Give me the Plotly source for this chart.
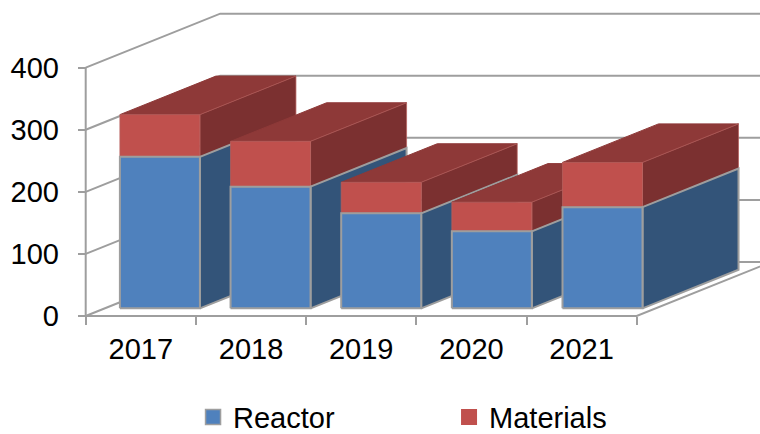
import plotly.graph_objects as go

# Data
years = ["2017", "2018", "2019", "2020", "2021"]
reactor = [244, 196, 153, 124, 163]
materials = [68, 73, 50, 47, 72]
y_ticks = [0, 100, 200, 300, 400]

# Canvas and axis scale
WIDTH = 760
HEIGHT = 434
AXIS_LEFT_PX = 85.7
AXIS_BOTTOM_PX = 316
PX_PER_CATEGORY = 110.2
PX_PER_UNIT = 0.6208

# Oblique depth of the box, in axis units
DEPTH_X = 134.5 / PX_PER_CATEGORY
DEPTH_Y = 54 / PX_PER_UNIT
BAR_START = 0.142
BAR_DEPTH = 0.714
BAR_WIDTH = 80 / PX_PER_CATEGORY
BAR_PITCH = 110.65 / PX_PER_CATEGORY

# Colours
GRID_COLOR = "#9e9e9e"
BLUE_FRONT = "#4f81bd"
BLUE_SIDE = "#335479"
RED_FRONT = "#c0504d"
RED_SIDE = "#7b3030"
RED_TOP = "#8e3938"
FONT = "Liberation Sans, Arial, sans-serif"

fig = go.Figure()


def add_line(xs, ys):
    fig.add_trace(go.Scatter(x=xs, y=ys, mode="lines", showlegend=False, hoverinfo="skip",
                             line=dict(color=GRID_COLOR, width=2)))


def add_face(xs, ys, fill, edge, edge_width=2):
    fig.add_trace(go.Scatter(x=xs + xs[:1], y=ys + ys[:1], mode="lines", fill="toself", fillcolor=fill,
                             showlegend=False, hoverinfo="skip",
                             line=dict(color=edge, width=edge_width)))


def add_box(i, low, high, front, side, top, edge, edge_width):
    # one stacked block: front rectangle plus the faces going back in depth
    x0 = i * BAR_PITCH - BAR_WIDTH / 2 + BAR_START * DEPTH_X
    x1 = x0 + BAR_WIDTH
    y0 = low + BAR_START * DEPTH_Y
    y1 = high + BAR_START * DEPTH_Y
    dx = BAR_DEPTH * DEPTH_X
    dy = BAR_DEPTH * DEPTH_Y
    if top is not None:
        add_face([x0, x1, x1 + dx, x0 + dx], [y1, y1, y1 + dy, y1 + dy], top, top, 1)
    add_face([x1, x1 + dx, x1 + dx, x1], [y0, y0 + dy, y1 + dy, y1], side, edge, edge_width)
    add_face([x0, x1, x1, x0], [y0, y0, y1, y1], front, edge, edge_width)


# Walls of the box: left wall, back wall, floor edge
x_left = -0.5
x_right = len(years) - 0.5
for v in y_ticks:
    add_line([x_left, x_left + DEPTH_X, x_right + DEPTH_X], [v, v + DEPTH_Y, v + DEPTH_Y])
add_line([x_left, x_right, x_right + DEPTH_X], [0, 0, DEPTH_Y])
add_line([x_left, x_left], [0, y_ticks[-1]])

# Bars from left to right so each one covers the side of the previous one
for i in range(len(years)):
    total = reactor[i] + materials[i]
    add_box(i, reactor[i], total, RED_FRONT, RED_SIDE, RED_TOP, "#b5605d", 0.75)
    add_box(i, 0, reactor[i], BLUE_FRONT, BLUE_SIDE, None, GRID_COLOR, 2)

# Legend entries
fig.add_trace(go.Scatter(x=[None], y=[None], mode="markers", name="Reactor",
                         marker=dict(symbol="square", size=15, color=BLUE_FRONT,
                                     line=dict(color=GRID_COLOR, width=1.5))))
fig.add_trace(go.Scatter(x=[None], y=[None], mode="markers", name="Materials",
                         marker=dict(symbol="square", size=16, color=RED_FRONT)))

fig.update_layout(
    width=WIDTH,
    height=HEIGHT,
    margin=dict(l=0, r=0, t=0, b=0, autoexpand=False),
    paper_bgcolor="white",
    plot_bgcolor="white",
    font=dict(family=FONT, size=29, color="black"),
    legend=dict(orientation="h", x=0.254, xanchor="left", y=-0.02, yanchor="bottom",
                entrywidth=211, entrywidthmode="pixels", font=dict(size=29),
                bgcolor="rgba(0,0,0,0)", traceorder="normal"),
    xaxis=dict(
        range=[x_left - AXIS_LEFT_PX / PX_PER_CATEGORY, x_left + (WIDTH - AXIS_LEFT_PX) / PX_PER_CATEGORY],
        anchor="free",
        position=(HEIGHT - AXIS_BOTTOM_PX) / HEIGHT,
        tickmode="array",
        tickvals=list(range(len(years))),
        ticktext=years,
        ticks="",
        ticklabelstandoff=13,
        showgrid=False,
        zeroline=False,
        showline=False,
        minor=dict(tickmode="array", tickvals=[i - 0.5 for i in range(len(years) + 1)],
                   ticks="outside", ticklen=8, tickwidth=2, tickcolor=GRID_COLOR, showgrid=False),
    ),
    yaxis=dict(
        range=[-(HEIGHT - AXIS_BOTTOM_PX) / PX_PER_UNIT, AXIS_BOTTOM_PX / PX_PER_UNIT],
        anchor="free",
        position=AXIS_LEFT_PX / WIDTH,
        tickmode="array",
        tickvals=y_ticks,
        ticks="outside",
        ticklen=8,
        tickwidth=2,
        tickcolor=GRID_COLOR,
        ticklabelstandoff=13,
        showgrid=False,
        zeroline=False,
        showline=False,
    ),
)

# the page's default body margin would push the figure 8px off
fig.write_html("out.html", config=dict(displayModeBar=False),
               post_script="document.body.style.margin = '0';")
